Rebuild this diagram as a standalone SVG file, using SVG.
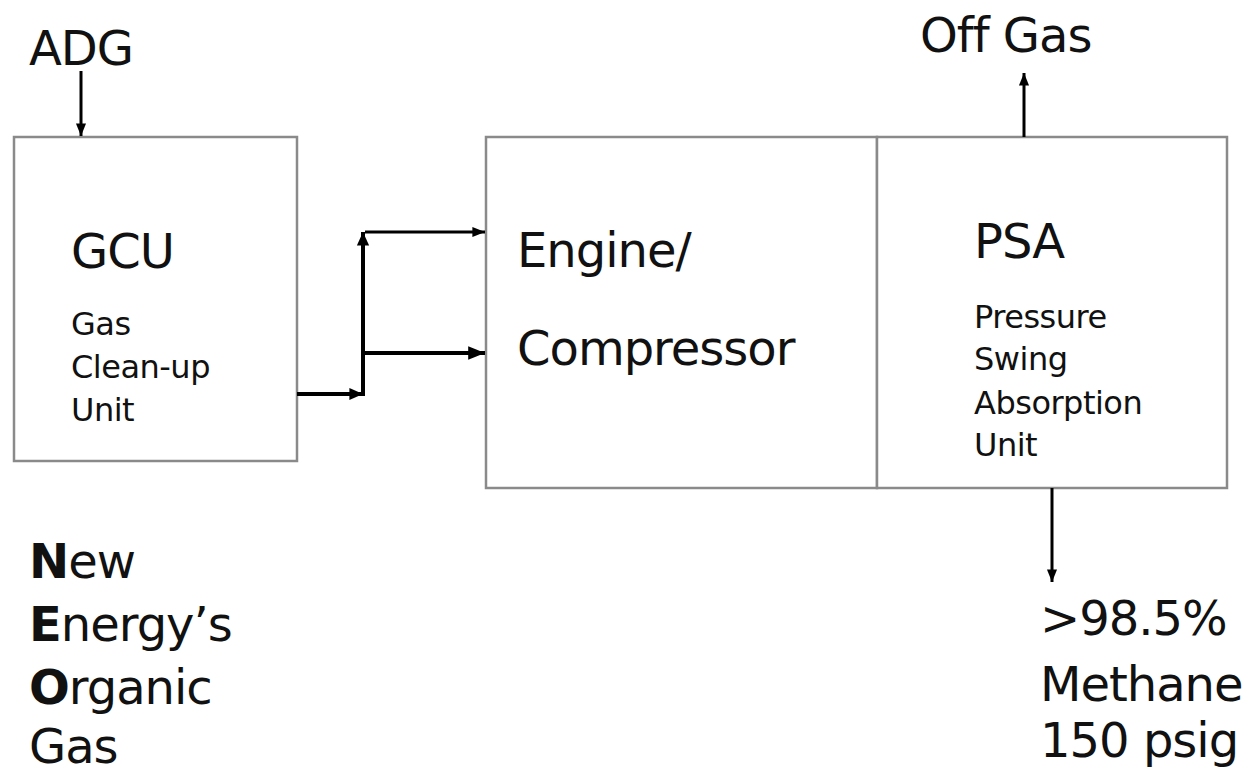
<svg xmlns="http://www.w3.org/2000/svg" width="1251" height="778" viewBox="0 0 1251 778">
<style>
text{font-family:"DejaVu Sans","Liberation Sans",sans-serif;fill:#111}
.box{fill:#fff;stroke:#8a8a8a;stroke-width:2.5}
.big{font-size:48px;letter-spacing:-1px}
.small{font-size:32px;letter-spacing:-0.5px}
.ln{stroke:#000;fill:none}
</style>
<defs>
<marker id="ah" viewBox="0 0 10 10" refX="10" refY="5" markerWidth="4.2" markerHeight="4.2" markerUnits="strokeWidth" orient="auto">
<path d="M0,1 L10,5 L0,9 z" fill="#000"/>
</marker>
<marker id="ah2" viewBox="0 0 10 10" refX="10" refY="5" markerWidth="3.4" markerHeight="3.4" markerUnits="strokeWidth" orient="auto">
<path d="M0,0.5 L10,5 L0,9.5 z" fill="#000"/>
</marker>
</defs>
<rect width="1251" height="778" fill="#fff"/>
<g id="gcu">
<rect class="box" x="14" y="137" width="283" height="324"/>
<text class="big" x="71" y="268">GCU</text>
<text class="small" x="71" y="335">Gas</text>
<text class="small" x="71" y="378">Clean-up</text>
<text class="small" x="71" y="421">Unit</text>
</g>
<g id="engine">
<rect class="box" x="486" y="137" width="391" height="351"/>
<text class="big" x="517" y="267">Engine/</text>
<text class="big" x="517" y="365">Compressor</text>
</g>
<g id="psa">
<rect class="box" x="877" y="137" width="350" height="351"/>
<text class="big" x="974" y="258">PSA</text>
<text class="small" x="974" y="328">Pressure</text>
<text class="small" x="974" y="370">Swing</text>
<text class="small" x="974" y="414">Absorption</text>
<text class="small" x="974" y="456">Unit</text>
</g>
<g id="labels">
<text class="big" x="29" y="65">ADG</text>
<text class="big" x="920" y="52">Off Gas</text>
<text class="big" x="1040" y="635">&gt;98.5%</text>
<text class="big" x="1040" y="701">Methane</text>
<text class="big" x="1040" y="757">150 psig</text>
<text class="big" x="29" y="578"><tspan font-weight="bold">N</tspan>ew</text>
<text class="big" x="29" y="641"><tspan font-weight="bold">E</tspan>nergy’s</text>
<text class="big" x="29" y="704"><tspan font-weight="bold">O</tspan>rganic</text>
<text class="big" x="29" y="763">Gas</text>
</g>
<g id="connectors">
<line class="ln" x1="81" y1="71" x2="81" y2="136" stroke-width="3" marker-end="url(#ah)"/>
<line class="ln" x1="1024" y1="137" x2="1024" y2="73" stroke-width="3" marker-end="url(#ah)"/>
<line class="ln" x1="1052" y1="488" x2="1052" y2="582" stroke-width="3" marker-end="url(#ah)"/>
<line class="ln" x1="297" y1="394" x2="363" y2="394" stroke-width="4" marker-end="url(#ah2)"/>
<line class="ln" x1="363" y1="396" x2="363" y2="232" stroke-width="4" marker-end="url(#ah2)"/>
<line class="ln" x1="365" y1="232" x2="485" y2="232" stroke-width="3" marker-end="url(#ah)"/>
<line class="ln" x1="363" y1="353" x2="485" y2="353" stroke-width="4" marker-end="url(#ah)"/>
</g>
</svg>
